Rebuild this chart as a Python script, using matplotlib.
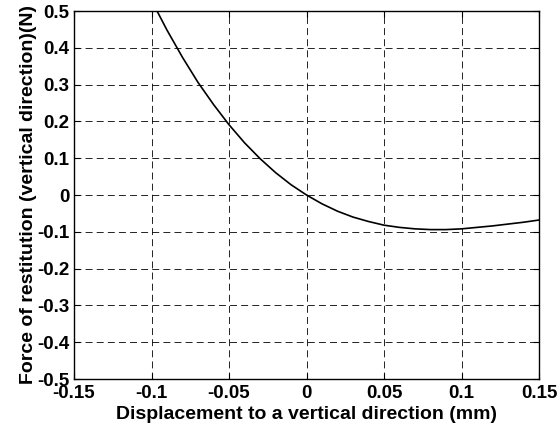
import matplotlib
matplotlib.use("Agg")
import matplotlib.pyplot as plt

# data
x_mm = [-0.10, -0.09, -0.08, -0.07, -0.06, -0.05, -0.04, -0.03, -0.02, -0.01, 0.0,
        0.01, 0.02, 0.03, 0.04, 0.05, 0.06, 0.07, 0.08, 0.09, 0.10,
        0.11, 0.12, 0.13, 0.14, 0.15]
force_n = [0.529, 0.448, 0.374, 0.306, 0.246, 0.191, 0.142, 0.099, 0.061, 0.028, 0.0,
           -0.024, -0.044, -0.060, -0.072, -0.082, -0.088, -0.092, -0.094, -0.094, -0.092,
           -0.088, -0.084, -0.079, -0.074, -0.068]
xticks = [-0.15, -0.1, -0.05, 0, 0.05, 0.1, 0.15]
xticklabels = ["-0.15", "-0.1", "-0.05", "0", "0.05", "0.1", "0.15"]
yticks = [-0.5, -0.4, -0.3, -0.2, -0.1, 0, 0.1, 0.2, 0.3, 0.4, 0.5]
yticklabels = ["-0.5", "-0.4", "-0.3", "-0.2", "-0.1", "0", "0.1", "0.2", "0.3", "0.4", "0.5"]

plt.rcParams['font.family'] = ['Liberation Sans', 'DejaVu Sans']
plt.rcParams['font.weight'] = 'bold'
plt.rcParams['lines.scale_dashes'] = False

fig = plt.figure(figsize=(5.57, 4.30), dpi=100)
ax = fig.add_axes([74/557, 51/430, (539-74)/557, (379-11)/430])

ax.plot(x_mm, force_n, color='black', lw=1.2)
ax.set_xlim(-0.15, 0.15)
ax.set_ylim(-0.5, 0.5)
ax.set_xticks(xticks)
ax.set_xticklabels(xticklabels)
ax.set_yticks(yticks)
ax.set_yticklabels(yticklabels)
ax.tick_params(direction='in', top=True, right=True, length=4, width=0.8,
               labelsize=13.5)
ax.tick_params(axis='x', pad=4)
ax.tick_params(axis='y', pad=3.5)
for lab in ax.get_xticklabels() + ax.get_yticklabels():
    lab.set_fontweight('bold')
ax.grid(True, color='black', lw=0.6, linestyle=(0, (5, 3)))
for s in ax.spines.values():
    s.set_linewidth(1.0)
ax.set_xlabel("Displacement to a vertical direction (mm)", fontsize=14,
              fontweight='bold', labelpad=3)
ax.set_ylabel("Force of restitution (vertical direction)(N)", fontsize=14,
              fontweight='bold', labelpad=0)

fig.savefig("out.png", dpi=100)
